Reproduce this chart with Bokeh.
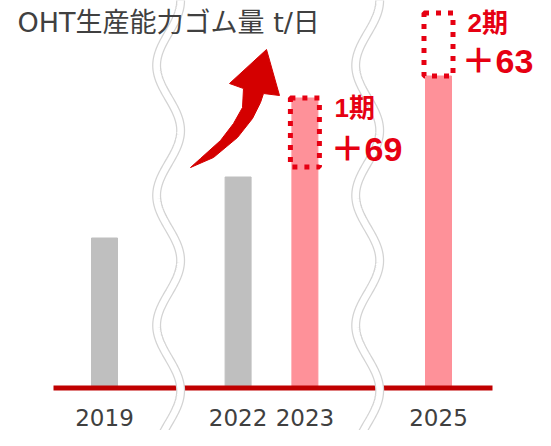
from bokeh.plotting import figure
from bokeh.models import Range1d, ColumnDataSource, Label
from bokeh.core.properties import value
from bokeh.embed import file_html
from bokeh.resources import INLINE
import numpy as np

# ---- data ----
years = ["2019", "2022", "2023", "2025"]
slots = [0, 2, 3, 5]                 # positions on the (broken) time axis
capacity = [150, 211, 290, 312]      # bar heights, t/day
bar_colors = ["#bfbfbf", "#bfbfbf", "#fe9199", "#fe9199"]
phase_years = ["2023", "2025"]
phase_slots = [3, 5]
phase_base = [221, 312]              # where each expansion box starts
phase_add = [69, 63]                 # expansion amounts
phase_names = ["1期", "2期"]
break_slots = [0.96, 3.94]           # axis-break positions
title_text = "OHT生産能力ゴム量 t/日"

# ---- geometry helpers (decoration only) ----
UNIT = 66.8          # px per slot
X0 = 104             # px of slot 0 inside figure
Y0 = 387.5           # px of value 0 inside figure (from top)
W, H = 535, 430

def px(sx, sy):
    return ((sx - X0) / UNIT, Y0 - sy)

p = figure(width=W, height=H, output_backend="svg", toolbar_location=None,
           x_range=Range1d(-X0 / UNIT, (W - X0) / UNIT),
           y_range=Range1d(Y0 - H, Y0),
           x_axis_type=None, y_axis_type=None, min_border=0,
           outline_line_color=None, background_fill_color="white")
p.grid.visible = False

# bars
src = ColumnDataSource(dict(x=slots, top=capacity, color=bar_colors, year=years))
p.vbar(x="x", top="top", bottom=0, width=26 / UNIT, color="color", source=src)

# dotted expansion boxes
box_src = ColumnDataSource(dict(
    left=[s - 14.5 / UNIT for s in phase_slots],
    right=[s + 14.5 / UNIT for s in phase_slots],
    bottom=phase_base,
    top=[b + a for b, a in zip(phase_base, phase_add)]))
p.quad(left="left", right="right", bottom="bottom", top="top", source=box_src,
       fill_color=None, line_color="#e60012", line_width=5, line_dash="5 7")

# curved arrow (decoration)
outline = [(190, 167), (213, 157), (237, 137), (252, 118), (260, 102), (263, 93),
           (279, 95), (266, 49), (229, 83), (243, 88), (242, 107), (233, 123),
           (220, 140), (200, 158)]
ax = [px(a, b)[0] for a, b in outline]
ay = [px(a, b)[1] for a, b in outline]
p.patch(ax, ay, fill_color="#d40000", line_color="#d40000", line_width=1)

# baseline
bl = px(53, 0)[0], px(492, 0)[0]
p.line([bl[0], bl[1]], [0, 0], line_color="#c00000", line_width=5)

# wavy axis-break ribbons
ys = np.linspace(-5, 452, 300)
for c in break_slots:
    xs = c - (12 / UNIT) * np.cos(2 * np.pi * (ys - 65) / 130)
    yd = Y0 - ys
    p.line(xs, yd, line_color="#d3d3d3", line_width=9)
    p.line(xs, yd, line_color="white", line_width=6.5)

# year labels
p.text(x="x", y=px(0, 417)[1], text="year", source=src, text_align="center",
       text_baseline="middle", text_font=value("DejaVu Sans"),
       text_font_size="23px", text_color="#404040")

# phase labels
RED_FONT = value("'Liberation Sans', 'Noto Sans CJK JP'")
name_x = [px(334, 0)[0], px(467, 0)[0]]
name_y = [px(0, 107.5)[1], px(0, 22)[1]]
p.text(x=name_x, y=name_y, text=phase_names, text_align="left",
       text_baseline="middle", text_font=RED_FONT,
       text_font_size="26px", text_font_style="bold", text_color="#e60012")
add_x = [px(330, 0)[0], px(461, 0)[0]]
add_y = [px(0, 148.5)[1], px(0, 60.5)[1]]
p.text(x=add_x, y=add_y, text=["＋%d" % v for v in phase_add], text_align="left",
       text_baseline="middle", text_font=RED_FONT,
       text_font_size="34px", text_font_style="bold", text_color="#e60012")

# title
p.add_layout(Label(x=17, y=H - 22, x_units="screen", y_units="screen",
                   text=title_text, text_font="'DejaVu Sans', 'Noto Sans CJK JP'",
                   text_font_size="27px", text_color="#404040",
                   text_baseline="middle", text_align="left"))

open("out.html", "w").write(file_html(p, INLINE))
